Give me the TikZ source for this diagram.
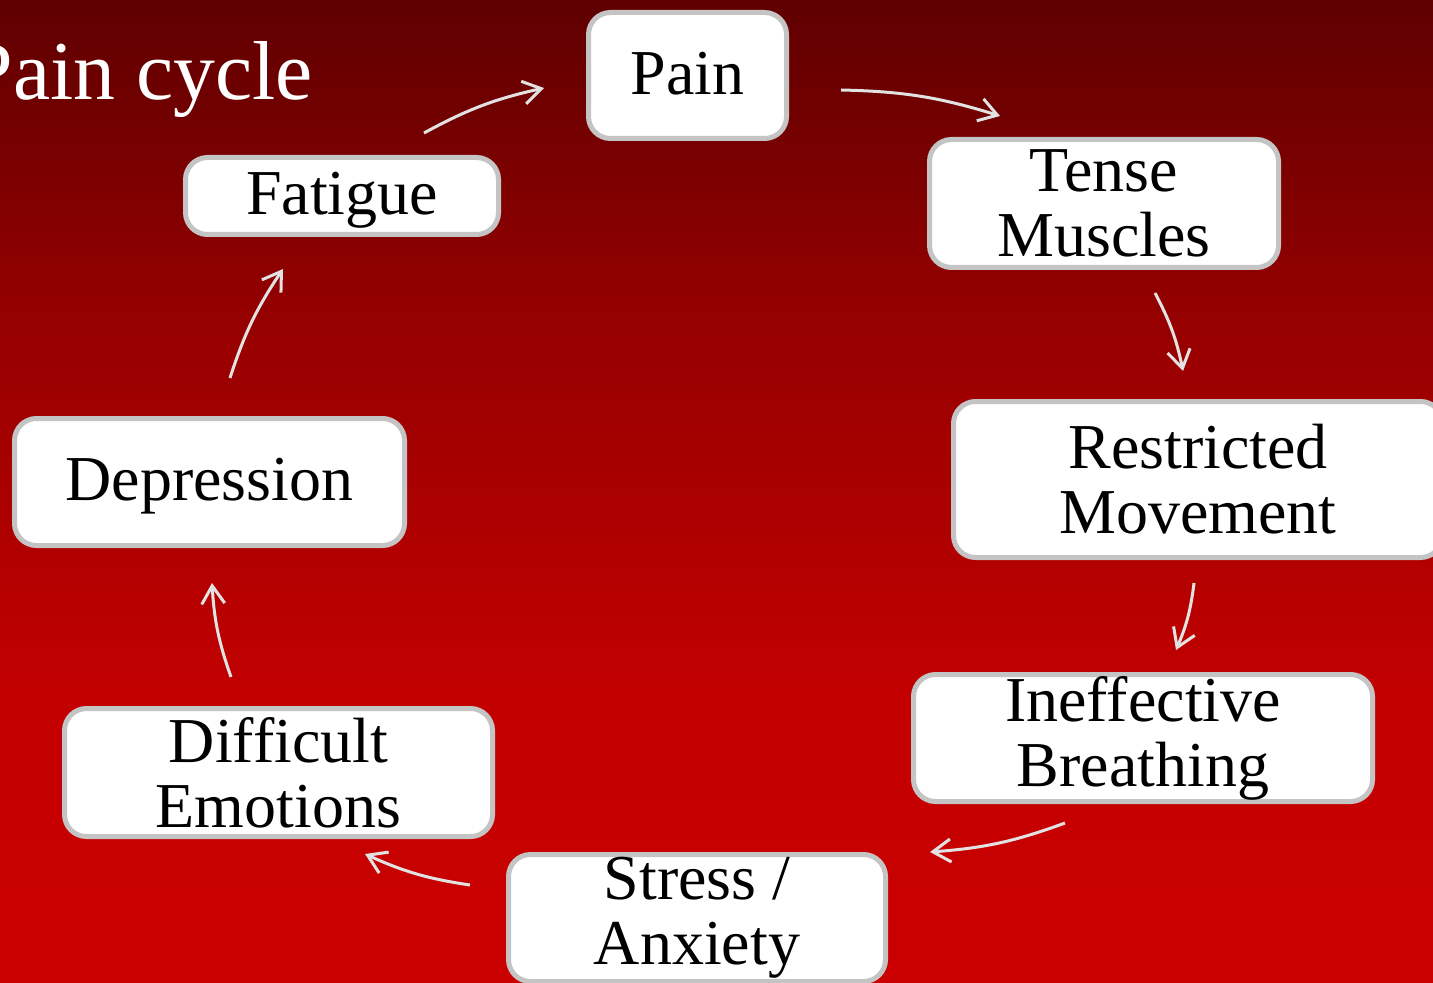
\documentclass[tikz,border=0pt]{standalone}
\usepackage{fontspec}
\setmainfont{Liberation Serif}
\usetikzlibrary{arrows.meta}
\definecolor{bgA}{RGB}{202,0,0}
\definecolor{bgB}{RGB}{195,0,0}
\definecolor{bgC}{RGB}{168,0,0}
\definecolor{bgD}{RGB}{150,0,0}
\definecolor{bgE}{RGB}{113,0,0}
\definecolor{bgF}{RGB}{95,0,0}
\definecolor{boxline}{RGB}{196,196,196}
\definecolor{arrowc}{RGB}{226,226,226}
\pgfdeclareverticalshading{bgshade}{100bp}{color(0bp)=(bgA); color(25bp)=(bgA); color(39.4bp)=(bgB); color(50.6bp)=(bgC); color(58.7bp)=(bgD); color(69.4bp)=(bgE); color(75bp)=(bgF); color(100bp)=(bgF)}
\begin{document}
\begin{tikzpicture}[
  box/.style={draw=boxline, line width=0.05cm, fill=white, rounded corners=0.22cm,
    align=center, inner sep=0pt, font=\fontsize{18.2pt}{18.5pt}\selectfont},
  onebox/.style={box, text height=10.8pt, text depth=0pt},
  flow/.style={draw=arrowc, line width=0.03cm,
    -{Straight Barb[length=1.8mm,width=2.3mm]}, bend left=8},
  title/.style={text=white, inner sep=0pt, anchor=base west,
    font=\fontsize{23.8pt}{24pt}\selectfont}
]
\useasboundingbox (0,0) rectangle (14.33,-9.82);
\clip (0,0) rectangle (14.33,-9.82);
\shade[shading=bgshade] (0,0) rectangle (14.33,-9.82);

\node[title] (ttl) at (-0.34,-1.00) {Pain cycle};

\node[onebox, minimum width=1.98cm, minimum height=1.26cm] (pain) at (6.875,-0.755) {Pain};
\node[box, minimum width=3.49cm, minimum height=1.28cm] (tense) at (11.04,-2.035) {Tense\\Muscles};
\node[box, minimum width=4.89cm, minimum height=1.56cm] (restr) at (11.98,-4.795) {Restricted\\Movement};
\node[box, minimum width=4.59cm, minimum height=1.27cm] (ineff) at (11.43,-7.38) {Ineffective\\Breathing};
\node[box, minimum width=3.77cm, minimum height=1.27cm] (stress) at (6.97,-9.18) {Stress /\\Anxiety};
\node[box, minimum width=4.28cm, minimum height=1.28cm] (diff) at (2.785,-7.725) {Difficult\\Emotions};
\node[onebox, minimum width=3.90cm, minimum height=1.27cm] (depr) at (2.095,-4.82) {Depression};
\node[onebox, minimum width=3.13cm, minimum height=0.77cm] (fat) at (3.42,-1.96) {Fatigue};

\coordinate (a1s) at (8.41,-0.90);  \coordinate (a1e) at (10.00,-1.16);
\coordinate (a2s) at (11.55,-2.93); \coordinate (a2e) at (11.83,-3.71);
\coordinate (a3s) at (11.94,-5.83); \coordinate (a3e) at (11.76,-6.50);
\coordinate (a4s) at (10.65,-8.23); \coordinate (a4e) at (9.30,-8.52);
\coordinate (a5s) at (4.70,-8.85);  \coordinate (a5e) at (3.65,-8.54);
\coordinate (a6s) at (2.31,-6.77);  \coordinate (a6e) at (2.12,-5.83);
\coordinate (a7s) at (2.30,-3.78);  \coordinate (a7e) at (2.83,-2.69);
\coordinate (a8s) at (4.24,-1.33);  \coordinate (a8e) at (5.44,-0.88);

\draw[flow] (a1s) to (a1e);
\draw[flow] (a2s) to (a2e);
\draw[flow] (a3s) to (a3e);
\draw[flow] (a4s) to (a4e);
\draw[flow] (a5s) to (a5e);
\draw[flow] (a6s) to (a6e);
\draw[flow] (a7s) to (a7e);
\draw[flow] (a8s) to (a8e);
\end{tikzpicture}
\end{document}
